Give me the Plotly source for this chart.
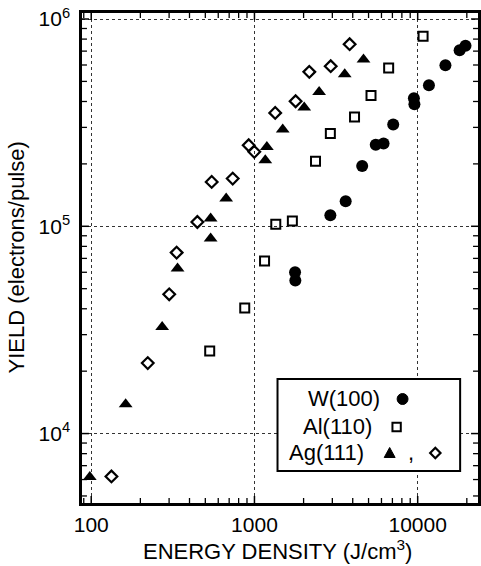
import math
import plotly.graph_objects as go

# ---------------- data ----------------
W_x = [1773, 1780, 2917, 3621, 4570, 5534, 6180, 7080, 9480, 9550, 11720, 14790, 18070, 19630]
W_y = [59950, 54800, 113000, 132000, 195500, 247700, 250700, 309600, 415000, 388300, 479600, 598700, 706000, 743000]

Al_x = [532, 872, 1153, 1351, 1707, 2366, 2917, 4103, 5177, 6640, 10790]
Al_y = [25000, 40350, 68050, 102200, 106100, 206000, 280000, 337000, 428000, 580000, 826000]

Ag_tri_x = [98, 162.5, 272, 338, 539, 539, 671, 1191, 1165, 1490, 2018, 2490, 3573, 4656]
Ag_tri_y = [6166, 13830, 32650, 62500, 87300, 108900, 136000, 241500, 208400, 293000, 374000, 444700, 541700, 638000]

Ag_dia_x = [133, 222, 300.5, 333.6, 447, 547, 736, 922, 998, 1340, 1787, 2167, 2932, 3829]
Ag_dia_y = [6210, 21880, 46980, 74650, 104900, 163700, 169900, 246000, 228700, 352400, 401000, 556000, 592000, 755800]

x_tickvals = [100, 1000, 10000]
x_ticktext = ["100", "1000", "10000"]
y_tickvals = [1e4, 1e5, 1e6]
y_ticktext = ["10<sup>4</sup>", "10<sup>5</sup>", "10<sup>6</sup>"]

x_minor = [d * 10 ** k for k in (1, 2, 3, 4) for d in range(2, 10)]
y_minor = [d * 10 ** k for k in (3, 4, 5, 6) for d in range(2, 10)]

legend_labels = ["W(100)", "Al(110)", "Ag(111)"]

# ---------------- layout geometry (pixels) ----------------
W, H = 481, 566
L, R, T, B = 82, 0, 13, 63
PX0, PX1 = L, W - R
PY0, PY1 = H - B, T
XR = [1.9435, 4.3695]
YR = [3.665, 6.029]

FONT = "Liberation Sans, Arial, sans-serif"


def fx(px):
    return (px - PX0) / (PX1 - PX0)


def fy(py):
    return (PY0 - py) / (PY0 - PY1)


fig = go.Figure()

fig.add_trace(go.Scatter(x=W_x, y=W_y, mode="markers",
                         marker=dict(symbol="circle", size=12, color="black"),
                         showlegend=False))
fig.add_trace(go.Scatter(x=Al_x, y=Al_y, mode="markers",
                         marker=dict(symbol="square-open", size=9, color="black",
                                     line=dict(width=2, color="black")),
                         showlegend=False))
fig.add_trace(go.Scatter(x=Ag_tri_x, y=Ag_tri_y, mode="markers",
                         marker=dict(symbol="triangle-up", size=12, color="black"),
                         showlegend=False))
fig.add_trace(go.Scatter(x=Ag_dia_x, y=Ag_dia_y, mode="markers",
                         marker=dict(symbol="diamond-open", size=9, color="black",
                                     line=dict(width=2.2, color="black")),
                         showlegend=False))

shapes = []

# ---------------- tick marks on all four sides (inside) ----------------
plot_w = PX1 - PX0
plot_h = PY0 - PY1


def add_ticks(vals, rng, horizontal, length_px, width):
    for v in vals:
        f = (math.log10(v) - rng[0]) / (rng[1] - rng[0])
        if f < 0 or f > 1:
            continue
        if horizontal:  # x-axis ticks, bottom and top
            ln = length_px / plot_h
            for a, b in ((0, ln), (1, 1 - ln)):
                shapes.append(dict(type="line", xref="x domain", yref="y domain", layer="above",
                                   x0=f, x1=f, y0=a, y1=b,
                                   line=dict(color="black", width=width)))
        else:  # y-axis ticks, left and right
            ln = length_px / plot_w
            for a, b in ((0, ln), (1, 1 - ln)):
                shapes.append(dict(type="line", xref="x domain", yref="y domain", layer="above",
                                   x0=a, x1=b, y0=f, y1=f,
                                   line=dict(color="black", width=width)))


add_ticks(x_tickvals, XR, True, 7, 1.5)
add_ticks(x_minor, XR, True, 5, 1.3)
add_ticks(y_tickvals, YR, False, 7, 1.5)
add_ticks(y_minor, YR, False, 5, 1.3)

# ---------------- custom legend drawn as shapes (paper coords) ----------------
leg_box = dict(x0=279, x1=463, y0=379, y1=471)
leg_rows_y = [398, 426, 452]
leg_text_x = [308, 303, 289]

shapes.append(dict(type="rect", xref="paper", yref="paper", layer="above",
                   x0=fx(leg_box["x0"]), x1=fx(leg_box["x1"]),
                   y0=fy(leg_box["y1"]), y1=fy(leg_box["y0"]),
                   fillcolor="white", line=dict(color="black", width=2)))


def path_from_px(pts):
    return "M " + " L ".join(f"{fx(a):.5f},{fy(b):.5f}" for a, b in pts) + " Z"


cx, cy, r = 405, leg_rows_y[0] + 1, 5.5
shapes.append(dict(type="circle", xref="paper", yref="paper", layer="above",
                   x0=fx(cx - r), x1=fx(cx + r), y0=fy(cy + r), y1=fy(cy - r),
                   fillcolor="black", line=dict(color="black", width=1)))
sx, sy, h = 399, leg_rows_y[1] + 1, 4.2
shapes.append(dict(type="rect", xref="paper", yref="paper", layer="above",
                   x0=fx(sx - h), x1=fx(sx + h), y0=fy(sy + h), y1=fy(sy - h),
                   fillcolor="rgba(0,0,0,0)", line=dict(color="black", width=2)))
tx, ty = 392, leg_rows_y[2] + 1
shapes.append(dict(type="path", xref="paper", yref="paper", layer="above",
                   path=path_from_px([(tx - 5.5, ty + 4.5), (tx + 5.5, ty + 4.5), (tx, ty - 5.5)]),
                   fillcolor="black", line=dict(color="black", width=1)))
dx, dy, d = 438, leg_rows_y[2] + 1, 5.2
shapes.append(dict(type="path", xref="paper", yref="paper", layer="above",
                   path=path_from_px([(dx - d, dy), (dx, dy - d), (dx + d, dy), (dx, dy + d)]),
                   fillcolor="rgba(0,0,0,0)", line=dict(color="black", width=2.2)))

annotations = []
for lab, tx_, ty_ in zip(legend_labels, leg_text_x, leg_rows_y):
    annotations.append(dict(text=lab, x=fx(tx_), y=fy(ty_), xref="paper", yref="paper",
                            xanchor="left", yanchor="middle", showarrow=False,
                            font=dict(family=FONT, size=22, color="black")))
annotations.append(dict(text=",", x=fx(413), y=fy(leg_rows_y[2]), xref="paper", yref="paper",
                        xanchor="center", yanchor="middle", showarrow=False,
                        font=dict(family=FONT, size=22, color="black")))

annotations.append(dict(text="ENERGY DENSITY (J/cm<sup>3</sup>)",
                        x=fx(279), y=fy(550), xref="paper", yref="paper",
                        xanchor="center", yanchor="middle", showarrow=False,
                        font=dict(family=FONT, size=22, color="black")))
annotations.append(dict(text="YIELD (electrons/pulse)", textangle=-90,
                        x=fx(15), y=fy(258), xref="paper", yref="paper",
                        xanchor="center", yanchor="middle", showarrow=False,
                        font=dict(family=FONT, size=22, color="black")))

axis_common = dict(
    type="log",
    ticks="", mirror=True, showline=True, linewidth=2.5, linecolor="black",
    showgrid=True, gridcolor="#333333", griddash="dot", gridwidth=1,
    zeroline=False,
    tickfont=dict(family=FONT, size=21, color="black"),
)

fig.update_layout(
    width=W, height=H,
    margin=dict(l=L, r=R, t=T, b=B, pad=0),
    paper_bgcolor="white", plot_bgcolor="white",
    showlegend=False,
    xaxis=dict(**axis_common, range=XR,
               tickmode="array", tickvals=x_tickvals, ticktext=x_ticktext,
               ticklabelstandoff=1),
    yaxis=dict(**axis_common, range=YR,
               tickmode="array", tickvals=y_tickvals, ticktext=y_ticktext,
               ticklabelstandoff=5),
    shapes=shapes,
    annotations=annotations,
)

fig.write_html("out.html")
